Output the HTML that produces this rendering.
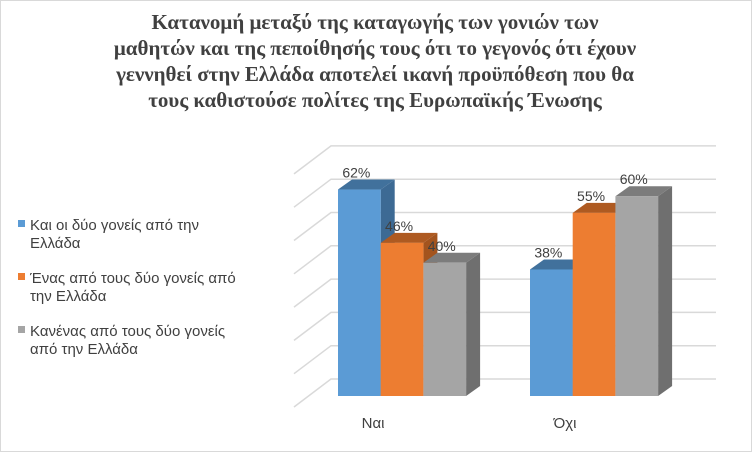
<!DOCTYPE html>
<html><head><meta charset="utf-8"><style>
html,body{margin:0;padding:0;background:#fff;}
#wrap{position:relative;width:752px;height:452px;overflow:hidden;background:#fff;box-sizing:border-box;border:1px solid #d9d9d9;}
svg text{font-family:"Liberation Sans","DejaVu Sans",sans-serif;}
</style></head><body>
<div id="wrap">
<svg id="chart" width="752" height="452">
<g font-weight="bold" font-size="21" fill="#404040" text-anchor="middle">
<text x="374" y="28" style="font-family:'Liberation Serif',serif">Κατανομή μεταξύ της καταγωγής των γονιών των</text>
<text x="374" y="54" style="font-family:'Liberation Serif',serif">μαθητών και της πεποίθησής τους ότι το γεγονός ότι έχουν</text>
<text x="374" y="80" style="font-family:'Liberation Serif',serif">γεννηθεί στην Ελλάδα αποτελεί ικανή προϋπόθεση που θα</text>
<text x="374" y="106" style="font-family:'Liberation Serif',serif">τους καθιστούσε πολίτες της Ευρωπαϊκής Ένωσης</text>
</g>
<g id="grid"></g>
<g id="bars"></g>
<g id="labels"></g>
<g font-size="15" fill="#404040">
<rect x="17" y="219" width="7" height="7" fill="#5b9bd5"/>
<text x="29" y="229" fill="#404040">Και οι δύο γονείς από την</text>
<text x="29" y="247" fill="#404040">Ελλάδα</text>
<rect x="17" y="272" width="7" height="7" fill="#ed7d31"/>
<text x="29" y="282" fill="#404040">Ένας από τους δύο γονείς από</text>
<text x="29" y="300" fill="#404040">την Ελλάδα</text>
<rect x="17" y="325" width="7" height="7" fill="#a5a5a5"/>
<text x="29" y="335" fill="#404040">Κανένας από τους δύο γονείς</text>
<text x="29" y="353" fill="#404040">από την Ελλάδα</text>
</g>
</svg>
</div>
<script>
const categories = ["Ναι", "Όχι"];
const seriesNames = ["Και οι δύο γονείς από την Ελλάδα", "Ένας από τους δύο γονείς από την Ελλάδα", "Κανένας από τους δύο γονείς από την Ελλάδα"];
const bothGreek = [62, 38];
const oneGreek = [46, 55];
const noneGreek = [40, 60];
const gridTicks = [0, 10, 20, 30, 40, 50, 60, 70];

const NS = "http://www.w3.org/2000/svg";
const front = ["#5b9bd5", "#ed7d31", "#a5a5a5"];
const topC = ["#41719c", "#ae5a21", "#7c7c7c"];
const sideC = ["#3d6a94", "#a3541e", "#6f6f6f"];
const series = [bothGreek, oneGreek, noneGreek];
const backBase = 378, pxPer = 3.33;
const frontBase = 395;
function yBack(v){ return backBase - v * pxPer; }
function yFront(v){ return frontBase - v * pxPer; }
const groupX = [337, 529];
const barW = 42.7, dX = 14, dY = 10;
function mk(tag, attrs){ const e = document.createElementNS(NS, tag); for (const k in attrs) e.setAttribute(k, attrs[k]); return e; }

const grid = document.getElementById('grid');
gridTicks.forEach(t => {
  const y = yBack(t);
  const l = mk('polyline', {points: `293,${y+28} 330,${y} 715,${y}`, fill: 'none', stroke: '#d9d9d9', 'stroke-width': 1.5});
  
  
  grid.appendChild(l);
});

const bars = document.getElementById('bars');
const labels = document.getElementById('labels');
categories.forEach((c, ci) => {
  series.forEach((s, si) => {
    const v = s[ci];
    const x0 = groupX[ci] + si * barW, x1 = x0 + barW;
    const yt = yFront(v);
    const g = mk('g', {});
    
    
    g.appendChild(mk('polygon', {points: `${x1},${yt} ${x1+dX},${yt-dY} ${x1+dX},${frontBase-dY} ${x1},${frontBase}`, fill: sideC[si]}));
    g.appendChild(mk('polygon', {points: `${x0},${yt} ${x0+dX},${yt-dY} ${x1+dX},${yt-dY} ${x1},${yt}`, fill: topC[si]}));
    g.appendChild(mk('rect', {x: x0, y: yt, width: barW, height: frontBase - yt, fill: front[si]}));
    bars.appendChild(g);
    const t = mk('text', {x: x0 + barW/2 - 3, y: yt - 12, 'text-anchor': 'middle', 'font-size': 14, fill: '#404040'});
    
    
    t.textContent = v + '%';
    labels.appendChild(t);
  });
  const ct = mk('text', {x: groupX[ci] + 1.5 * barW - 29, y: 427, 'text-anchor': 'middle', 'font-size': 15, fill: '#404040'});
  
  
  ct.textContent = c;
  labels.appendChild(ct);
});
</script>
</body></html>
